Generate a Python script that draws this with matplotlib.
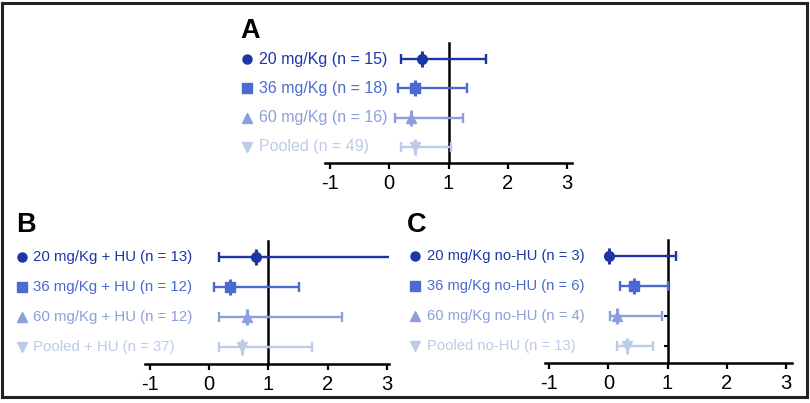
import matplotlib
matplotlib.use("Agg")
import matplotlib.pyplot as plt
from matplotlib import transforms
from matplotlib.patches import Rectangle

plt.rcParams['font.family'] = ['Liberation Sans', 'DejaVu Sans']

W, H = 810, 403
colors = ['#1c36a6', '#4a6ad2', '#8c9fdc', '#bccbe8']
markers = ['o', 's', '^', 'v']
msizes = [7, 7, 7.5, 7.5]

# Panel A
labels_A = ['20 mg/Kg (n = 15)', '36 mg/Kg (n = 18)', '60 mg/Kg (n = 16)', 'Pooled (n = 49)']
est_A = [0.55, 0.44, 0.37, 0.44]
lo_A = [0.19, 0.14, 0.10, 0.19]
hi_A = [1.64, 1.32, 1.25, 1.05]

# Panel B
labels_B = ['20 mg/Kg + HU (n = 13)', '36 mg/Kg + HU (n = 12)', '60 mg/Kg + HU (n = 12)', 'Pooled + HU (n = 37)']
est_B = [0.79, 0.35, 0.64, 0.56]
lo_B = [0.17, 0.08, 0.17, 0.17]
hi_B = [3.30, 1.52, 2.25, 1.73]

# Panel C
labels_C = ['20 mg/Kg no-HU (n = 3)', '36 mg/Kg no-HU (n = 6)', '60 mg/Kg no-HU (n = 4)', 'Pooled no-HU (n = 13)']
est_C = [0.01, 0.44, 0.15, 0.32]
lo_C = [0.01, 0.19, 0.02, 0.15]
hi_C = [1.15, 1.00, 0.91, 0.75]

xticks = [-1, 0, 1, 2, 3]
rows = [4, 3, 2, 1]

fig = plt.figure(figsize=(W / 100, H / 100), dpi=100)


def px_axes(left, top, right, bottom):
    return fig.add_axes([left / W, 1 - bottom / H, (right - left) / W, (bottom - top) / H])


def panel(ax, letter, labels, est, lo, hi, xlim, mark_x, text_x, letter_x, letter_y, lab_fs):
    ax.set_xlim(*xlim)
    ax.set_ylim(0.45, 4.55)
    ax.patch.set_alpha(0)
    for s in ['top', 'right']:
        ax.spines[s].set_visible(False)
    ax.spines['left'].set_position(('data', 1))
    ax.spines['left'].set_linewidth(1.8)
    ax.spines['bottom'].set_linewidth(1.8)
    ax.set_xticks(xticks)
    ax.set_xticklabels([str(t) for t in xticks], fontsize=14.5)
    ax.set_yticks(rows)
    ax.set_yticklabels([])
    ax.tick_params(axis='x', direction='out', length=4, width=1.6, pad=4)
    ax.tick_params(axis='y', direction='out', length=3, width=1.5)
    for i in range(4):
        e = est[i]
        ax.errorbar([e], [rows[i]], xerr=[[e - lo[i]], [hi[i] - e]], fmt=markers[i],
                    color=colors[i], ms=msizes[i], elinewidth=1.7, capsize=3.6,
                    capthick=1.7, zorder=3)
        ax.plot([e], [rows[i]], marker='|', ms=11, mew=2.2, color=colors[i], zorder=3)
    tr = transforms.blended_transform_factory(fig.transFigure, ax.transData)
    for i in range(4):
        ax.plot([mark_x / W], [rows[i]], marker=markers[i], ms=msizes[i] - 0.5,
                color=colors[i], transform=tr, clip_on=False)
        ax.text(text_x / W, rows[i], labels[i], transform=tr, color=colors[i],
                fontsize=lab_fs, va='center', ha='left')
    fig.text(letter_x / W, 1 - letter_y / H, letter, fontsize=19.5, fontweight='heavy',
             ha='left', va='baseline', family=['Liberation Sans', 'DejaVu Sans'])


axA = px_axes(325.3, 42.9, 571.7, 163.1)
panel(axA, 'A', labels_A, est_A, lo_A, hi_A, (-1.08, 3.08), 247, 259, 240, 37.5, 11.5)

axB = px_axes(145.3, 240.5, 388.5, 363.5)
panel(axB, 'B', labels_B, est_B, lo_B, hi_B, (-1.08, 3.03), 21.7, 33, 16, 232.5, 10.8)

axC = px_axes(544.6, 239.5, 791.7, 362.5)
panel(axC, 'C', labels_C, est_C, lo_C, hi_C, (-1.08, 3.1), 415, 427, 407, 232.5, 10.6)

fig.patches.append(Rectangle((2 / W, 1 - 397 / H), 805 / W, 394 / H, transform=fig.transFigure,
                             fill=False, edgecolor='#222222', linewidth=2.2))

fig.savefig('out.png', dpi=100)
